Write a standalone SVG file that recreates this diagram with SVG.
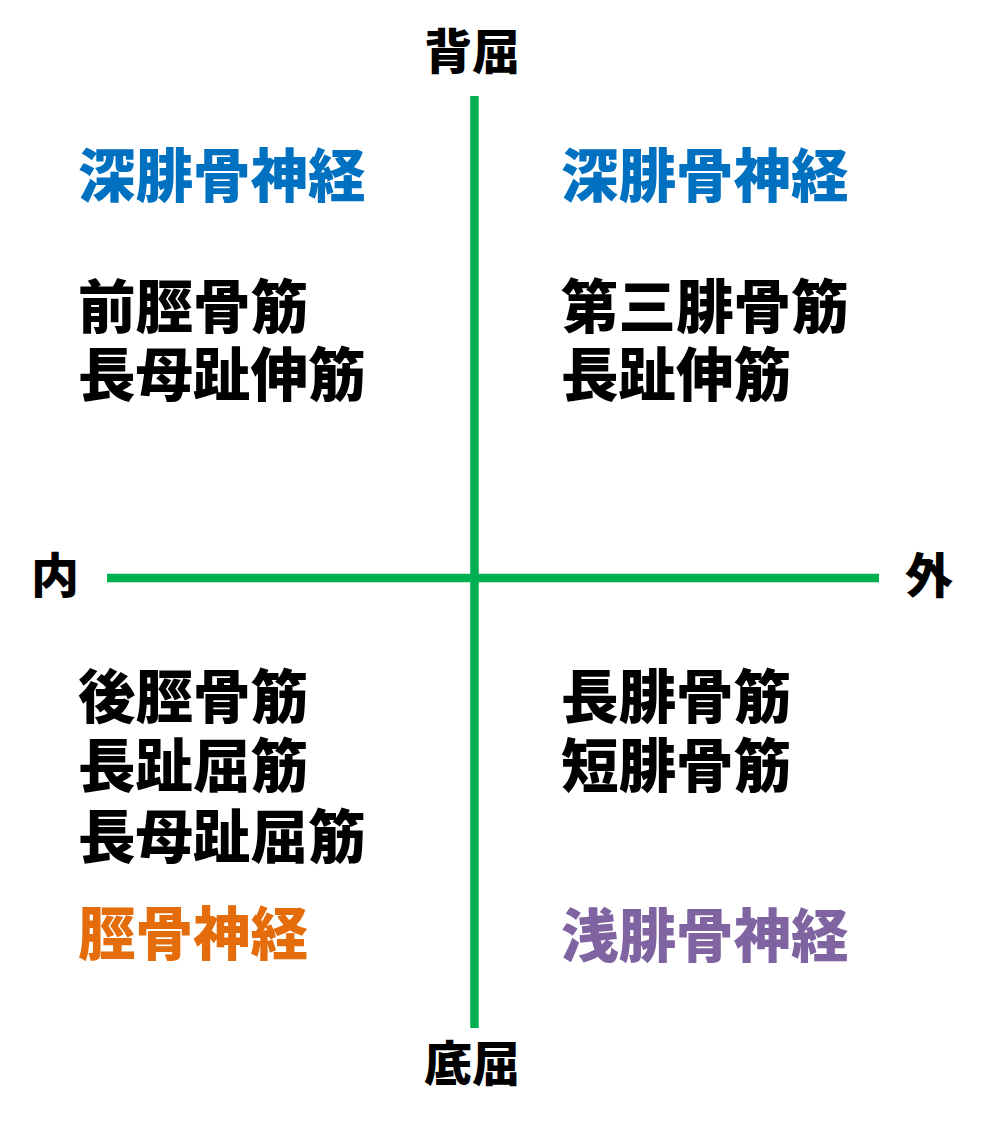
<svg xmlns="http://www.w3.org/2000/svg" width="985" height="1122" viewBox="0 0 985 1122">
<style>
text{font-family:"Noto Sans CJK JP","Noto Sans CJK SC",sans-serif;font-weight:900}
.big{font-size:57.5px}
.ax{font-size:48px}
.k{fill:#000}
.blue{fill:#0070C0}
.orange{fill:#E46C0A}
.purple{fill:#8064A2}
.line{stroke:#00B050;stroke-width:8.5;fill:none}
</style>
<rect width="985" height="1122" fill="#fff"/>
<g id="connectors">
<line class="line" x1="474.5" y1="96" x2="474.5" y2="1028"/>
<line class="line" x1="107" y1="578" x2="879" y2="578"/>
</g>
<g id="axis-top"><text class="ax k" x="424" y="69">背屈</text></g>
<g id="axis-bottom"><text class="ax k" x="424" y="1081">底屈</text></g>
<g id="axis-left"><text class="ax k" x="31" y="593">内</text></g>
<g id="axis-right"><text class="ax k" x="905" y="593">外</text></g>
<g id="q-top-left">
<text class="big blue" x="78" y="196.5">深腓骨神経</text>
<text class="big k" x="78" y="327.5">前脛骨筋</text>
<text class="big k" x="78" y="395.5">長母趾伸筋</text>
</g>
<g id="q-top-right">
<text class="big blue" x="561" y="196.5">深腓骨神経</text>
<text class="big k" x="561" y="327.5">第三腓骨筋</text>
<text class="big k" x="561" y="395.5">長趾伸筋</text>
</g>
<g id="q-bottom-left">
<text class="big k" x="78" y="717.5">後脛骨筋</text>
<text class="big k" x="78" y="786.5">長趾屈筋</text>
<text class="big k" x="78" y="857.5">長母趾屈筋</text>
<text class="big orange" x="78" y="954.5">脛骨神経</text>
</g>
<g id="q-bottom-right">
<text class="big k" x="561" y="717.5">長腓骨筋</text>
<text class="big k" x="561" y="786.5">短腓骨筋</text>
<text class="big purple" x="561" y="956.5">浅腓骨神経</text>
</g>
</svg>
